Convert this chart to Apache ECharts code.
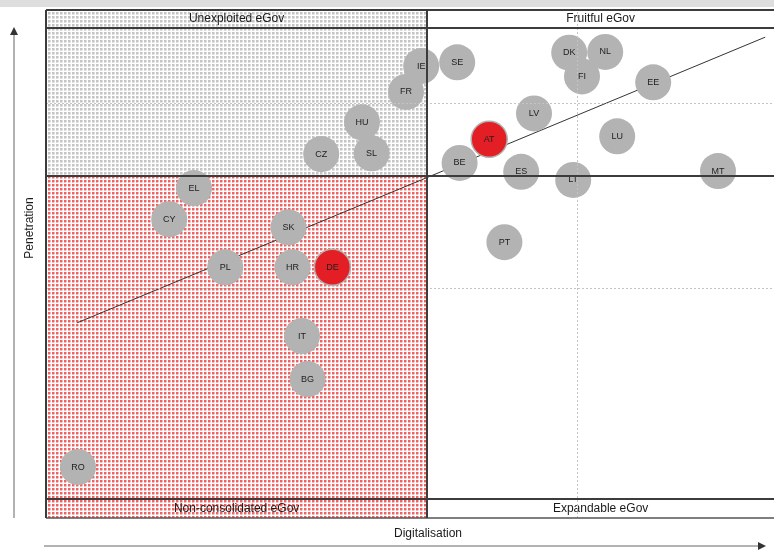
<!DOCTYPE html>
<html>
<head>
    <meta charset="utf-8" />
    <title>eGov maturity</title>
    <script src="https://cdn.jsdelivr.net/npm/echarts@6/dist/echarts.min.js"></script>
    <style>
        html, body { margin: 0; padding: 0; background: #fff; }
        #main { width: 774px; height: 550px; }
    </style>
</head>
<body>
<div id="main"></div>
<script type="text/javascript">
    // country data
    var countries = ['IE', 'SE', 'FR', 'HU', 'SL', 'CZ', 'EL', 'CY', 'SK', 'PL', 'HR', 'DE', 'IT', 'BG', 'RO',
        'DK', 'NL', 'FI', 'EE', 'LV', 'AT', 'LU', 'BE', 'ES', 'LT', 'MT', 'PT'];
    var digitalisation = [55.5, 60.0, 53.6, 48.1, 49.3, 43.0, 27.1, 24.0, 38.9, 31.0, 39.4, 44.4, 40.6, 41.3, 12.6,
        74.0, 78.5, 75.6, 84.5, 69.6, 64.0, 80.0, 60.3, 68.0, 74.5, 92.6, 65.9];
    var penetration = [80.0, 80.5, 76.5, 72.4, 68.2, 68.1, 63.5, 59.3, 58.2, 52.8, 52.8, 52.8, 43.5, 37.7, 25.8,
        81.8, 81.9, 78.6, 77.8, 73.6, 70.1, 70.5, 66.9, 65.7, 64.6, 65.8, 56.2];
    var highlighted = ['DE', 'AT'];

    var trendX = [12.5, 98.5];
    var trendY = [45.3, 83.9];

    var quadrantNames = ['Unexploited eGov', 'Fruitful eGov', 'Non-consolidated eGov', 'Expandable eGov'];
    var avgDigitalisation = 56.25;
    var avgPenetration = 65.14;
    var gridLinesX = [75];
    var gridLinesY = [50, 75];

    // axis extents (plot area + the header / footer bands)
    var xMin = 8.6, xMax = 99.6;
    var yMin = 18.92, yMax = 87.57;
    var headerLine = 85.14, footerLine = 21.49;

    function makePattern(dark, mid, light) {
        var c = document.createElement('canvas');
        c.width = 4;
        c.height = 4;
        var ctx = c.getContext('2d');
        ctx.fillStyle = '#ffffff';
        ctx.fillRect(0, 0, 4, 4);
        ctx.fillStyle = dark;
        ctx.fillRect(0, 0, 2, 2);
        ctx.fillStyle = mid;
        ctx.fillRect(2, 0, 1, 2);
        ctx.fillRect(0, 2, 2, 1);
        ctx.fillStyle = light;
        ctx.fillRect(2, 2, 1, 1);
        return { image: c, repeat: 'repeat' };
    }
    var redPattern = makePattern('#f06262', '#f8b6b6', '#fde2e2');
    var grayPattern = makePattern('#c4c4c4', '#dfdfdf', '#efefef');

    var grayData = [], redData = [];
    for (var i = 0; i < countries.length; i++) {
        var p = { name: countries[i], value: [digitalisation[i], penetration[i]] };
        if (highlighted.indexOf(countries[i]) >= 0) redData.push(p); else grayData.push(p);
    }
    var trendData = [];
    for (var j = 0; j < trendX.length; j++) trendData.push([trendX[j], trendY[j]]);

    var bandLabel = { show: true, position: 'inside', color: '#1a1a1a', fontSize: 12, fontFamily: 'Liberation Sans' };
    var clear = { color: 'rgba(0,0,0,0)' };

    var solid = { color: '#3c3c3c', width: 2, type: 'solid' };
    var dotted = { color: '#c4c4c4', width: 1, type: [2, 2] };
    var lines = [
        { yAxis: yMax, lineStyle: solid },
        { yAxis: headerLine, lineStyle: solid },
        { yAxis: avgPenetration, lineStyle: solid },
        { yAxis: footerLine, lineStyle: solid },
        { yAxis: yMin, lineStyle: { color: '#555', width: 1.5, type: 'solid' } },
        { xAxis: xMin, lineStyle: solid },
        { xAxis: avgDigitalisation, lineStyle: solid }
    ];
    var dots = [];
    gridLinesX.forEach(function (v) { dots.push({ xAxis: v, lineStyle: dotted }); });
    gridLinesY.forEach(function (v) { dots.push({ yAxis: v, lineStyle: dotted }); });

    var bubbleLabel = {
        show: true, position: 'inside', formatter: '{b}',
        color: '#222', fontSize: 9, fontFamily: 'Liberation Sans'
    };

    var myChart = echarts.init(document.getElementById('main'));
    myChart.setOption({
        animation: false,
        grid: { left: 46, right: 0, top: 10, bottom: 32 },
        xAxis: { type: 'value', min: xMin, max: xMax, show: false },
        yAxis: { type: 'value', min: yMin, max: yMax, show: false },
        graphic: [
            { type: 'rect', shape: { x: 0, y: 0, width: 774, height: 7 }, style: { fill: '#dedede' } },
            { type: 'line', shape: { x1: 14, y1: 34, x2: 14, y2: 518 }, style: { stroke: '#666', lineWidth: 1 } },
            { type: 'polygon', shape: { points: [[14, 27], [10, 35], [18, 35]] }, style: { fill: '#333' } },
            { type: 'line', shape: { x1: 44, y1: 546, x2: 758, y2: 546 }, style: { stroke: '#666', lineWidth: 1 } },
            { type: 'polygon', shape: { points: [[766, 546], [758, 542], [758, 550]] }, style: { fill: '#333' } },
            {
                type: 'text', x: 428, y: 534,
                style: { text: 'Digitalisation', fill: '#1a1a1a', font: '12px "Liberation Sans"', textAlign: 'center', textVerticalAlign: 'middle' }
            },
            {
                type: 'text', x: 30, y: 228, rotation: Math.PI / 2,
                style: { text: 'Penetration', fill: '#1a1a1a', font: '12px "Liberation Sans"', textAlign: 'center', textVerticalAlign: 'middle' }
            }
        ],
        series: [
            {
                type: 'line',
                z: 1,
                clip: false,
                data: trendData,
                symbol: 'none',
                lineStyle: { color: '#333', width: 1 },
                markArea: {
                    silent: true,
                    data: [
                        [{ xAxis: xMin, yAxis: avgPenetration, itemStyle: { color: grayPattern } }, { xAxis: avgDigitalisation, yAxis: yMax }],
                        [{ xAxis: xMin, yAxis: yMin, itemStyle: { color: redPattern } }, { xAxis: avgDigitalisation, yAxis: avgPenetration }],
                        [{ name: quadrantNames[0], xAxis: xMin, yAxis: headerLine, itemStyle: clear, label: bandLabel }, { xAxis: avgDigitalisation, yAxis: yMax }],
                        [{ name: quadrantNames[1], xAxis: avgDigitalisation, yAxis: headerLine, itemStyle: clear, label: bandLabel }, { xAxis: xMax, yAxis: yMax }],
                        [{ name: quadrantNames[2], xAxis: xMin, yAxis: yMin, itemStyle: clear, label: bandLabel }, { xAxis: avgDigitalisation, yAxis: footerLine }],
                        [{ name: quadrantNames[3], xAxis: avgDigitalisation, yAxis: yMin, itemStyle: clear, label: bandLabel }, { xAxis: xMax, yAxis: footerLine }]
                    ]
                },
                markLine: {
                    silent: true,
                    symbol: 'none',
                    label: { show: false },
                    data: dots.concat(lines)
                }
            },
            {
                type: 'scatter',
                z: 3,
                symbolSize: 36,
                data: grayData,
                itemStyle: { color: '#b3b3b3', opacity: 1 },
                label: bubbleLabel
            },
            {
                type: 'scatter',
                z: 4,
                symbolSize: 36,
                data: redData,
                itemStyle: { color: '#e31e24', borderColor: '#b0b0b0', borderWidth: 1.5, opacity: 1 },
                label: bubbleLabel
            }
        ]
    });
</script>
</body>
</html>
